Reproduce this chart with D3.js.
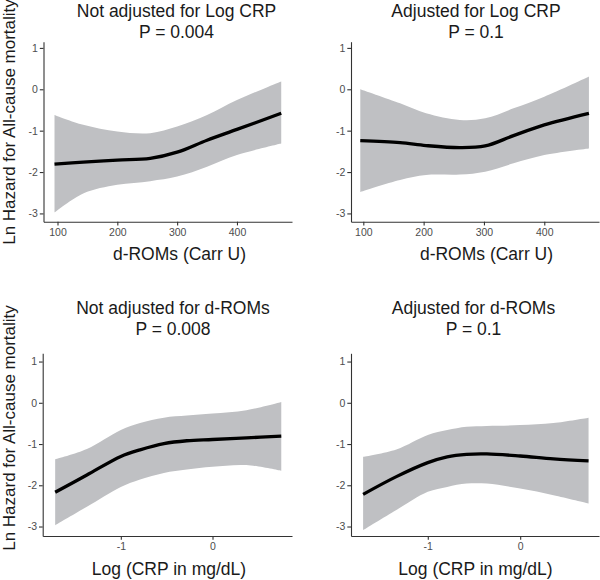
<!DOCTYPE html>
<html><head><meta charset="utf-8">
<script src="https://cdn.jsdelivr.net/npm/d3@7"></script>
<style>body{margin:0;background:#fff}svg{display:block}text{font-family:"Liberation Sans",Arial,sans-serif}</style>
</head><body><svg id="c" width="600" height="580"></svg>
<script>
// ---- data ----
const titles = ["Not adjusted for Log CRP", "Adjusted for Log CRP", "Not adjusted for d-ROMs", "Adjusted for d-ROMs"];
const pLabels = ["P = 0.004", "P = 0.1", "P = 0.008", "P = 0.1"];
const xTitles = ["d-ROMs (Carr U)", "d-ROMs (Carr U)", "Log (CRP in mg/dL)", "Log (CRP in mg/dL)"];
const yTitle = "Ln Hazard for All-cause mortality";
const yTicks = [-3, -2, -1, 0, 1];
const xTicksDroms = [100, 200, 300, 400];
const xTicksCrp = [-1, 0];

const p1X = [95, 143, 200, 255, 300, 350, 400, 474];
const p1Fit = [-1.81, -1.76, -1.71, -1.67, -1.52, -1.23, -0.97, -0.58];
const p1Up = [-0.62, -0.86, -1.02, -1.06, -0.90, -0.62, -0.26, 0.19];
const p1Lo = [-2.98, -2.52, -2.31, -2.22, -2.11, -1.87, -1.59, -1.31];

const p2X = [95, 161, 204, 260, 302, 349, 400, 474];
const p2Fit = [-1.24, -1.29, -1.36, -1.41, -1.37, -1.12, -0.86, -0.58];
const p2Up = [0.00, -0.34, -0.58, -0.74, -0.70, -0.46, -0.18, 0.31];
const p2Lo = [-2.48, -2.19, -2.07, -2.06, -1.99, -1.79, -1.59, -1.43];

const p3X = [-1.716, -1.37, -1.0, -0.79, -0.53, -0.28, 0, 0.37, 0.75];
const p3Fit = [-2.17, -1.75, -1.30, -1.14, -0.99, -0.92, -0.89, -0.85, -0.81];
const p3Up = [-1.37, -1.12, -0.66, -0.49, -0.36, -0.31, -0.26, -0.18, 0.02];
const p3Lo = [-2.97, -2.52, -2.04, -1.86, -1.70, -1.62, -1.55, -1.51, -1.65];

const p4X = [-1.70, -1.34, -1.0, -0.79, -0.58, -0.36, 0, 0.36, 0.74];
const p4Fit = [-2.22, -1.79, -1.45, -1.31, -1.25, -1.24, -1.29, -1.36, -1.41];
const p4Up = [-1.31, -1.13, -0.78, -0.66, -0.58, -0.56, -0.54, -0.49, -0.36];
const p4Lo = [-3.09, -2.60, -2.16, -2.04, -1.96, -1.96, -2.08, -2.24, -2.44];

// ---- layout ----
const panels = [
  {x: p1X, fit: p1Fit, up: p1Up, lo: p1Lo, xdom: [76.6, 492], xr: [43.5, 292], yr: [221.7, 41.7], ydom: [-3.2, 1.15], xticks: xTicksDroms, tx: 176.5, ty: 17, xtx: 179.5, xty: 260},
  {x: p2X, fit: p2Fit, up: p2Up, lo: p2Lo, xdom: [79.6, 490.7], xr: [351, 599], yr: [221.7, 41.7], ydom: [-3.2, 1.15], xticks: xTicksDroms, tx: 476, ty: 17, xtx: 486.5, xty: 260},
  {x: p3X, fit: p3Fit, up: p3Up, lo: p3Lo, xdom: [-1.852, 0.867], xr: [42.7, 292], yr: [536, 353.3], ydom: [-3.23, 1.2], xticks: xTicksCrp, tx: 173, ty: 314, xtx: 169, xty: 575},
  {x: p4X, fit: p4Fit, up: p4Up, lo: p4Lo, xdom: [-1.831, 0.853], xr: [351, 599], yr: [536, 353.3], ydom: [-3.23, 1.2], xticks: xTicksCrp, tx: 473.5, ty: 314, xtx: 475.5, xty: 575}
];

const svg = d3.select("#c");
const axisCol = "#333333", tickTextCol = "#4d4d4d";
const curve = d3.curveCatmullRom.alpha(0.5);

panels.forEach((p, i) => {
  const xs = d3.scaleLinear().domain(p.xdom).range(p.xr);
  const ys = d3.scaleLinear().domain(p.ydom).range(p.yr);
  const g = svg.append("g");
  const pts = p.x.map((v, k) => ({x: v, f: p.fit[k], u: p.up[k], l: p.lo[k]}));

  g.append("path").datum(pts)
    .attr("d", d3.area().x(d => xs(d.x)).y0(d => ys(d.l)).y1(d => ys(d.u)).curve(curve))
    .attr("fill", "#bfc0c3");
  g.append("path").datum(pts)
    .attr("d", d3.line().x(d => xs(d.x)).y(d => ys(d.f)).curve(curve))
    .attr("fill", "none").attr("stroke", "#000").attr("stroke-width", 3.3);

  const yAx = g.append("g").attr("transform", `translate(${p.xr[0]},0)`)
    .call(d3.axisLeft(ys).tickValues(yTicks).tickFormat(d3.format("d")).tickSize(3.7).tickPadding(2).tickSizeOuter(0));
  const xAx = g.append("g").attr("transform", `translate(0,${p.yr[0]})`)
    .call(d3.axisBottom(xs).tickValues(p.xticks).tickFormat(d3.format("d")).tickSize(3.7).tickPadding(3).tickSizeOuter(0));
  [yAx, xAx].forEach(a => {
    a.select(".domain").attr("stroke", axisCol).attr("stroke-width", 1.1);
    a.selectAll(".tick line").attr("stroke", axisCol).attr("stroke-width", 1.1);
    a.selectAll(".tick text").attr("fill", tickTextCol).attr("font-size", 10.5)
      .attr("font-family", "Liberation Sans, Arial, sans-serif")
      .text(d => d < 0 ? "-" + Math.abs(d) : String(d));
  });

  svg.append("text").attr("x", p.tx).attr("y", p.ty).attr("text-anchor", "middle")
    .attr("font-size", 17.5).attr("fill", "#1a1a1a").text(titles[i]);
  svg.append("text").attr("x", p.tx).attr("y", p.ty + 20.5).attr("text-anchor", "middle")
    .attr("font-size", 17.5).attr("fill", "#1a1a1a").text(pLabels[i]);
  svg.append("text").attr("x", p.xtx).attr("y", p.xty).attr("text-anchor", "middle")
    .attr("font-size", 17.5).attr("fill", "#1a1a1a").text(xTitles[i]);
});

[122, 428].forEach(cy => {
  svg.append("text").attr("transform", `translate(15,${cy}) rotate(-90)`)
    .attr("text-anchor", "middle").attr("font-size", 17).attr("fill", "#1a1a1a").text(yTitle);
});
</script></body></html>
